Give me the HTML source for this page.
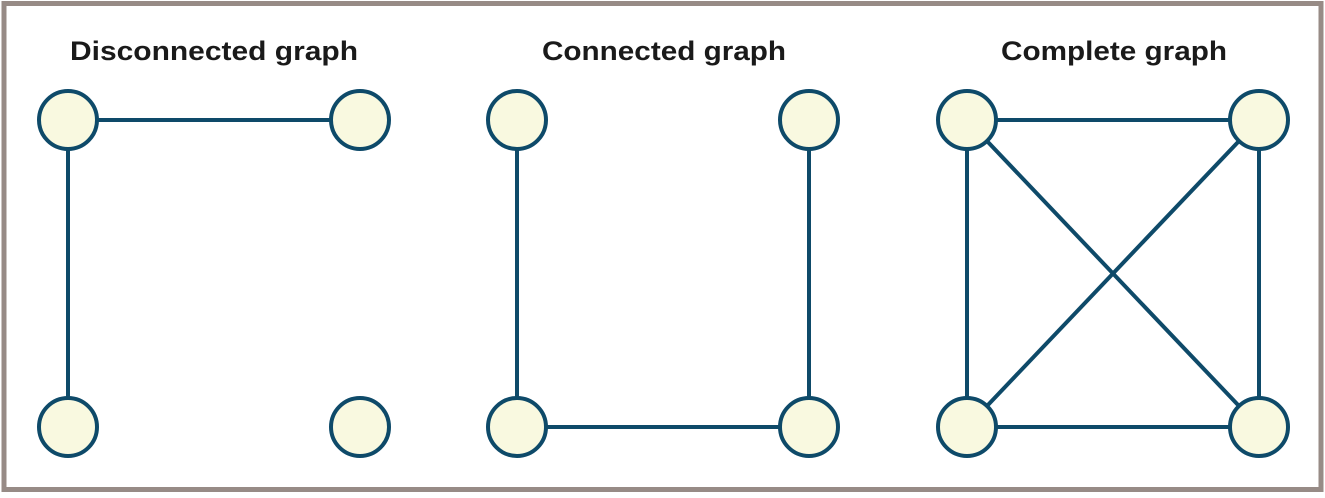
<!DOCTYPE html>
<html><head><style>
html,body{margin:0;padding:0;background:#fff;}
</style></head><body>
<svg width="1325" height="493" xmlns="http://www.w3.org/2000/svg">
<rect x="4" y="3.5" width="1317" height="486" fill="#fff" stroke="#978b86" stroke-width="5"/>
<g font-family="Liberation Sans, sans-serif" font-weight="bold" font-size="27" fill="#1a1a1a" text-anchor="middle">
<text x="214" y="60" textLength="288" lengthAdjust="spacingAndGlyphs">Disconnected graph</text>
<text x="664" y="60" textLength="244" lengthAdjust="spacingAndGlyphs">Connected graph</text>
<text x="1114" y="60" textLength="226" lengthAdjust="spacingAndGlyphs">Complete graph</text>
</g>
<g stroke="#0e4a69" stroke-width="4" fill="none">
<line x1="68" y1="120" x2="360" y2="120"/>
<line x1="68" y1="120" x2="68" y2="427"/>
<line x1="517" y1="120" x2="517" y2="427"/>
<line x1="809" y1="120" x2="809" y2="427"/>
<line x1="517" y1="427" x2="809" y2="427"/>
<line x1="967" y1="120" x2="1259" y2="120"/>
<line x1="967" y1="427" x2="1259" y2="427"/>
<line x1="967" y1="120" x2="967" y2="427"/>
<line x1="1259" y1="120" x2="1259" y2="427"/>
<line x1="967" y1="120" x2="1259" y2="427"/>
<line x1="1259" y1="120" x2="967" y2="427"/>
</g>
<g fill="#f9f9e0" stroke="#0e4a69" stroke-width="4">
<circle cx="68" cy="120" r="29"/><circle cx="360" cy="120" r="29"/>
<circle cx="68" cy="427" r="29"/><circle cx="360" cy="427" r="29"/>
<circle cx="517" cy="120" r="29"/><circle cx="809" cy="120" r="29"/>
<circle cx="517" cy="427" r="29"/><circle cx="809" cy="427" r="29"/>
<circle cx="967" cy="120" r="29"/><circle cx="1259" cy="120" r="29"/>
<circle cx="967" cy="427" r="29"/><circle cx="1259" cy="427" r="29"/>
</g>
</svg>
</body></html>
